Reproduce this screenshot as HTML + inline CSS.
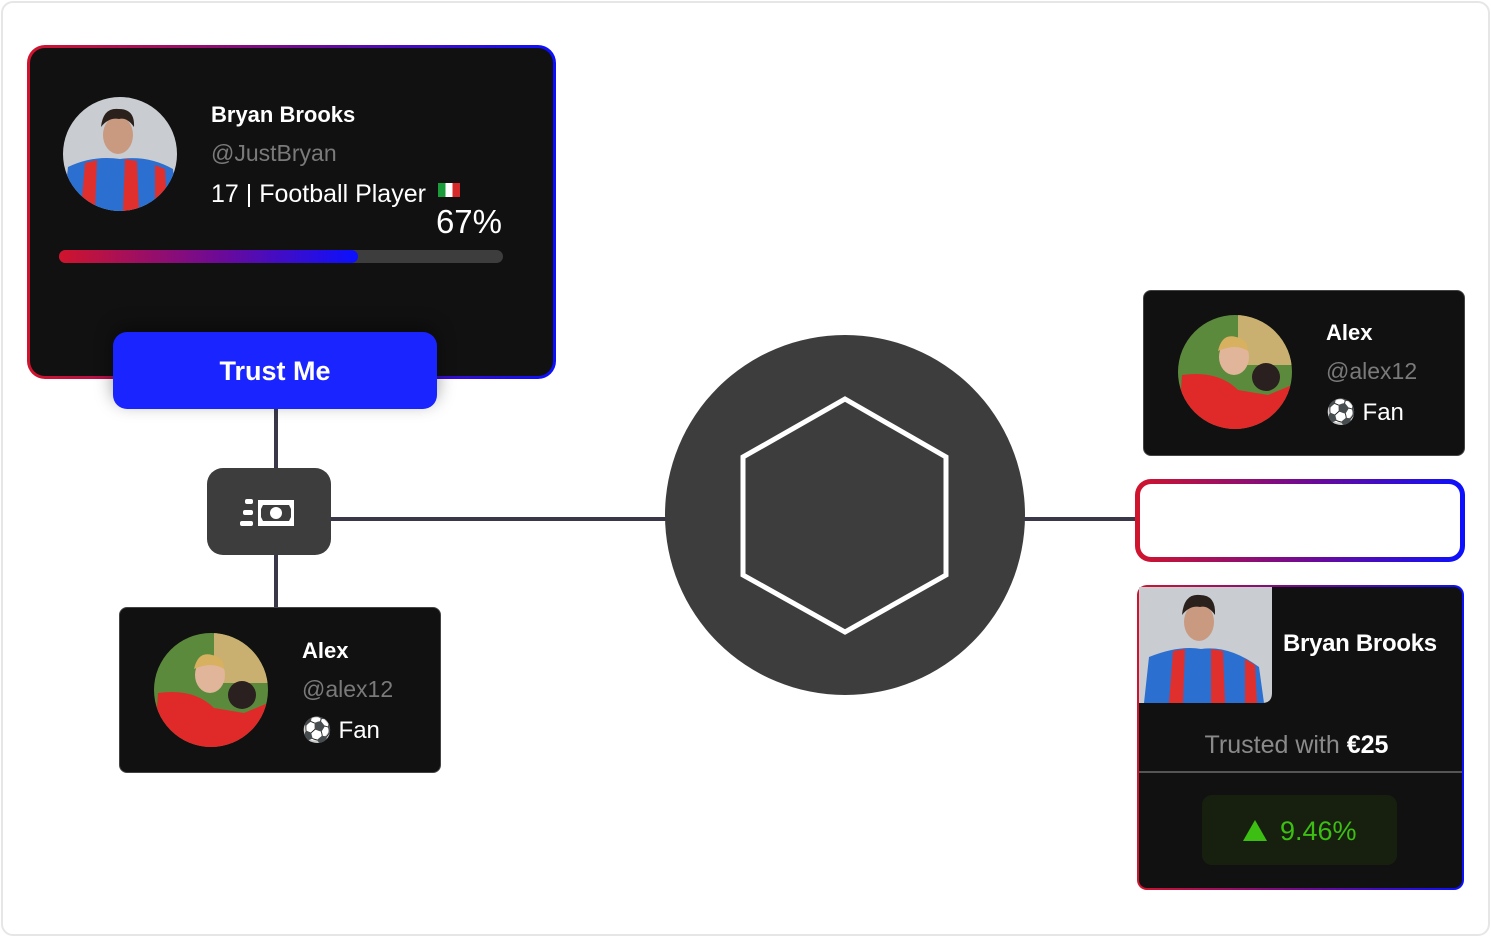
<!DOCTYPE html>
<html><head><meta charset="utf-8"><style>
*{margin:0;padding:0;box-sizing:border-box}
body{width:1491px;height:938px;background:#fff;position:relative;overflow:hidden;font-family:"Liberation Sans",sans-serif}
.abs{position:absolute}
.frame{left:1px;top:1px;width:1489px;height:935px;border:2px solid #e6e6e6;border-radius:12px}
.gb{border:3px solid transparent;background:linear-gradient(#111,#111) padding-box,linear-gradient(90deg,#d0142c,#6a0a9a 55%,#0a10ff) border-box}
.t{position:absolute;white-space:nowrap;color:#fff}
.line{position:absolute;background:#3a3848}
</style></head><body>
<div class="abs frame"></div>

<div class="line" style="left:274px;top:405px;width:4px;height:66px"></div>
<div class="line" style="left:274px;top:552px;width:4px;height:58px"></div>
<div class="line" style="left:328px;top:517px;width:340px;height:4px"></div>
<div class="line" style="left:1020px;top:517px;width:118px;height:4px"></div>

<div class="abs gb" style="left:27px;top:45px;width:529px;height:334px;border-radius:18px"></div>
<svg class="abs" style="left:63px;top:97px" width="114" height="114" viewBox="0 0 114 114">
<defs><clipPath id="c1"><circle cx="57" cy="57" r="57"/></clipPath></defs>
<g clip-path="url(#c1)"><rect width="114" height="114" fill="#c9ccd0"/>
<path d="M0 114 L5 70 Q30 58 57 62 Q85 58 110 72 L114 114Z" fill="#2b6fd0"/>
<path d="M18 114 L22 66 L34 63 L32 114Z M60 114 L62 62 L74 64 L76 114Z M92 114 L92 68 L102 72 L104 114Z" fill="#e0302e"/>
<ellipse cx="55" cy="38" rx="15" ry="19" fill="#c99a80"/>
<path d="M38 30 Q40 10 56 12 Q72 12 71 30 Q64 20 56 22 Q46 20 38 30Z" fill="#2a201c"/></g></svg>
<div class="t" style="left:211px;top:102px;font-size:22px;font-weight:bold">Bryan Brooks</div>
<div class="t" style="left:211px;top:140px;font-size:23px;color:#7a7a7a">@JustBryan</div>
<div class="t" style="left:211px;top:180px;font-size:25px">17 | Football Player</div>
<div class="abs" style="left:438px;top:183px;width:22px;height:14px;background:linear-gradient(90deg,#1b9c3a 33%,#fff 33% 66%,#d42a2a 66%)"></div>
<div class="t" style="left:400px;width:102px;text-align:right;top:203px;font-size:33px">67%</div>
<div class="abs" style="left:59px;top:250px;width:444px;height:13px;border-radius:7px;background:#3d3d3d"></div>
<div class="abs" style="left:59px;top:250px;width:299px;height:13px;border-radius:7px;background:linear-gradient(90deg,#d0142c,#6a0a9a 55%,#0a10ff)"></div>
<div class="abs" style="left:113px;top:332px;width:324px;height:77px;border-radius:14px;background:#1a24ff;box-shadow:0 -6px 18px rgba(0,0,0,.4)"></div>
<div class="t" style="left:113px;width:324px;text-align:center;top:356px;font-size:27px;font-weight:bold">Trust Me</div>

<div class="abs" style="left:207px;top:468px;width:124px;height:87px;border-radius:16px;background:#3d3d3d"></div>
<svg class="abs" style="left:240px;top:496px" width="56" height="32" viewBox="0 0 56 32">
<rect x="18" y="4" width="36" height="26" fill="#fff"/>
<path d="M23 9 h26 l2 4 v8 l-2 4 h-26 l-2-4 v-8z" fill="#3d3d3d"/>
<circle cx="36" cy="17" r="6" fill="#fff"/>
<rect x="5" y="3" width="8" height="5" rx="2" fill="#fff"/>
<rect x="3" y="14" width="10" height="5" rx="2" fill="#fff"/>
<rect x="0" y="25" width="13" height="5" rx="2" fill="#fff"/>
</svg>

<div class="abs" style="left:665px;top:335px;width:360px;height:360px;border-radius:50%;background:#3d3d3d"></div>
<svg class="abs" style="left:665px;top:335px" width="360" height="360">
<polygon points="180,64 281,122 281,240 180,297 78,240 78,122" fill="none" stroke="#fff" stroke-width="5"/></svg>

<div class="abs" style="left:119px;top:607px;width:322px;height:166px;border-radius:8px;background:#111;border:1px solid #444"></div>
<svg class="abs" style="left:154px;top:633px" width="114" height="114" viewBox="0 0 114 114">
<defs><clipPath id="c2"><circle cx="57" cy="57" r="57"/></clipPath></defs>
<g clip-path="url(#c2)"><rect width="114" height="114" fill="#5c8a3c"/><rect x="60" width="54" height="50" fill="#c9b070"/>
<path d="M0 114 L4 60 Q40 55 60 75 L90 80 L114 70 L114 114Z" fill="#e02a2a"/>
<ellipse cx="56" cy="42" rx="15" ry="18" fill="#e0b59a"/><path d="M40 36 Q44 18 58 22 Q70 24 70 36 Q58 28 40 36Z" fill="#d7b060"/>
<circle cx="88" cy="62" r="14" fill="#2a2020"/></g></svg>
<div class="t" style="left:302px;top:638px;font-size:22px;font-weight:bold">Alex</div>
<div class="t" style="left:302px;top:676px;font-size:23px;color:#7a7a7a">@alex12</div>
<div class="t" style="left:302px;top:716px;font-size:24px">⚽ Fan</div>

<div class="abs" style="left:1143px;top:290px;width:322px;height:166px;border-radius:8px;background:#111;border:1px solid #444"></div>
<svg class="abs" style="left:1178px;top:315px" width="114" height="114" viewBox="0 0 114 114">
<defs><clipPath id="c3"><circle cx="57" cy="57" r="57"/></clipPath></defs>
<g clip-path="url(#c3)"><rect width="114" height="114" fill="#5c8a3c"/><rect x="60" width="54" height="50" fill="#c9b070"/>
<path d="M0 114 L4 60 Q40 55 60 75 L90 80 L114 70 L114 114Z" fill="#e02a2a"/>
<ellipse cx="56" cy="42" rx="15" ry="18" fill="#e0b59a"/><path d="M40 36 Q44 18 58 22 Q70 24 70 36 Q58 28 40 36Z" fill="#d7b060"/>
<circle cx="88" cy="62" r="14" fill="#2a2020"/></g></svg>
<div class="t" style="left:1326px;top:320px;font-size:22px;font-weight:bold">Alex</div>
<div class="t" style="left:1326px;top:358px;font-size:23px;color:#7a7a7a">@alex12</div>
<div class="t" style="left:1326px;top:398px;font-size:24px">⚽ Fan</div>

<div class="abs" style="left:1135px;top:479px;width:330px;height:83px;border-radius:16px;border:5px solid transparent;background:linear-gradient(#fff,#fff) padding-box,linear-gradient(90deg,#d0142c,#6a0a9a 55%,#0a10ff) border-box"></div>

<div class="abs" style="left:1137px;top:585px;width:327px;height:305px;border-radius:10px;border:2px solid transparent;background:linear-gradient(#111,#111) padding-box,linear-gradient(90deg,#d0142c,#6a0a9a 55%,#0a10ff) border-box"></div>
<svg class="abs" style="left:1139px;top:587px" width="133" height="116" viewBox="0 0 133 116">
<defs><clipPath id="c4"><path d="M0 0 H133 V106 Q133 116 123 116 H0Z"/></clipPath></defs>
<g clip-path="url(#c4)"><rect width="133" height="116" fill="#c9ccd0"/>
<path d="M5 116 L10 70 Q40 58 62 62 Q90 58 120 80 L125 116Z" fill="#2b6fd0"/>
<path d="M30 116 L34 64 L46 62 L44 116Z M72 116 L72 62 L84 64 L86 116Z M106 116 L106 72 L116 78 L118 116Z" fill="#e0302e"/>
<ellipse cx="60" cy="35" rx="15" ry="19" fill="#c99a80"/>
<path d="M43 28 Q45 6 61 8 Q77 8 76 28 Q69 18 61 20 Q51 18 43 28Z" fill="#2a201c"/></g></svg>
<div class="t" style="left:1283px;top:630px;font-size:24px;font-weight:bold;letter-spacing:-0.3px">Bryan Brooks</div>
<div class="t" style="left:1135px;width:323px;text-align:center;top:731px;font-size:25px;color:#8a8a8a">Trusted with <span style="color:#fff;font-weight:bold">€25</span></div>
<div class="abs" style="left:1139px;top:771px;width:323px;height:2px;background:#555"></div>
<div class="abs" style="left:1202px;top:795px;width:195px;height:70px;border-radius:10px;background:#17200f"></div>
<svg class="abs" style="left:1242px;top:818px" width="26" height="24"><polygon points="13,2 25,23 1,23" fill="#3cbf12"/></svg>
<div class="t" style="left:1280px;top:816px;font-size:27px;color:#3cbf12">9.46%</div>
</body></html>
